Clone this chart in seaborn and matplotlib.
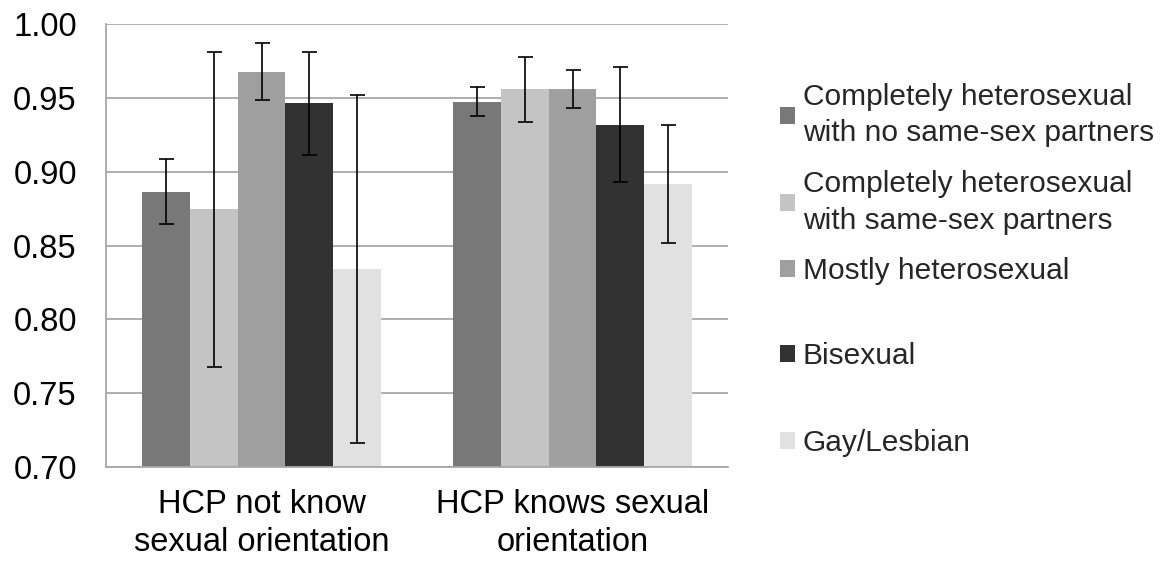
import matplotlib
matplotlib.use("Agg")
import matplotlib.pyplot as plt
import seaborn as sns
import pandas as pd
from matplotlib.patches import Patch

groups = ["HCP not know\nsexual orientation", "HCP knows sexual\norientation"]
categories = [
    "Completely heterosexual\nwith no same-sex partners",
    "Completely heterosexual\nwith same-sex partners",
    "Mostly heterosexual",
    "Bisexual",
    "Gay/Lesbian",
]
values_not_know = [0.8865, 0.8745, 0.968, 0.9465, 0.834]
values_knows = [0.9475, 0.956, 0.9563, 0.932, 0.892]
err_not_know = [0.022, 0.1065, 0.019, 0.035, 0.118]
err_knows = [0.0097, 0.022, 0.013, 0.039, 0.040]
colors = ["#787878", "#c4c4c4", "#9f9f9f", "#323232", "#e1e1e1"]
yticks = [0.70, 0.75, 0.80, 0.85, 0.90, 0.95, 1.00]

rows = []
for g, vals, errs in [(groups[0], values_not_know, err_not_know), (groups[1], values_knows, err_knows)]:
    for c, v, e in zip(categories, vals, errs):
        rows.append({"group": g, "category": c, "value": v, "err": e})
df = pd.DataFrame(rows)

sns.set_theme(style="white")
plt.rcParams["font.family"] = ["Liberation Sans", "DejaVu Sans"]
FS_AX = 23.5
FS_LEG = 21.5

fig = plt.figure(figsize=(11.65, 5.61), dpi=100)
ax = fig.add_axes([106 / 1165, (561 - 467) / 561, (728 - 106) / 1165, (467 - 24.3) / 561])

sns.barplot(data=df, x="group", y="value", hue="category", order=groups, hue_order=categories,
            palette=colors, width=0.77, errorbar=None, saturation=1, legend=False, ax=ax,
            linewidth=0, zorder=2)

# error bars at bar centers
bars = [p for p in ax.patches if p.get_height() > 0]
bars_sorted = sorted(bars, key=lambda p: p.get_x())
xs = [p.get_x() + p.get_width() / 2 for p in bars_sorted]
ys = [p.get_y() + p.get_height() for p in bars_sorted]
errs_all = err_not_know + err_knows
ax.errorbar(xs, ys, yerr=errs_all, fmt="none", ecolor="black", elinewidth=1.2,
            capsize=5.4, capthick=1.2, zorder=3)

ax.set_ylim(0.70, 1.00)
ax.set_xlim(-0.5, 1.5)
ax.set_yticks(yticks)
ax.set_yticklabels([f"{t:.2f}" for t in yticks])
ax.set_xlabel("")
ax.set_ylabel("")
ax.yaxis.grid(True, color="#a8a8a8", linewidth=1.3, zorder=0)
ax.set_axisbelow(True)
for s in ["top", "right"]:
    ax.spines[s].set_visible(False)
ax.spines["left"].set_color("#a8a8a8")
ax.spines["left"].set_linewidth(1.3)
ax.spines["bottom"].set_color("#a8a8a8")
ax.spines["bottom"].set_linewidth(1.3)
ax.tick_params(axis="y", length=0, pad=21, labelsize=FS_AX, labelcolor="black")
ax.tick_params(axis="x", length=0, pad=16, labelsize=FS_AX, labelcolor="black")
for lbl in ax.get_xticklabels():
    lbl.set_linespacing(1.3)

# legend entries at individual positions
legend_y = [115, 202.5, 271, 356, 443]
for c, col, yy in zip(categories, colors, legend_y):
    lg = fig.legend(handles=[Patch(facecolor=col, edgecolor="none", label=c)],
                    loc="center left", bbox_to_anchor=(780 / 1165, 1 - yy / 561),
                    frameon=False, fontsize=FS_LEG, handlelength=0.5, handleheight=0.5,
                    handletextpad=0.27, borderpad=0, borderaxespad=0)
    for t in lg.get_texts():
        t.set_linespacing(1.4)

fig.savefig("out.png", dpi=100, facecolor="white")
